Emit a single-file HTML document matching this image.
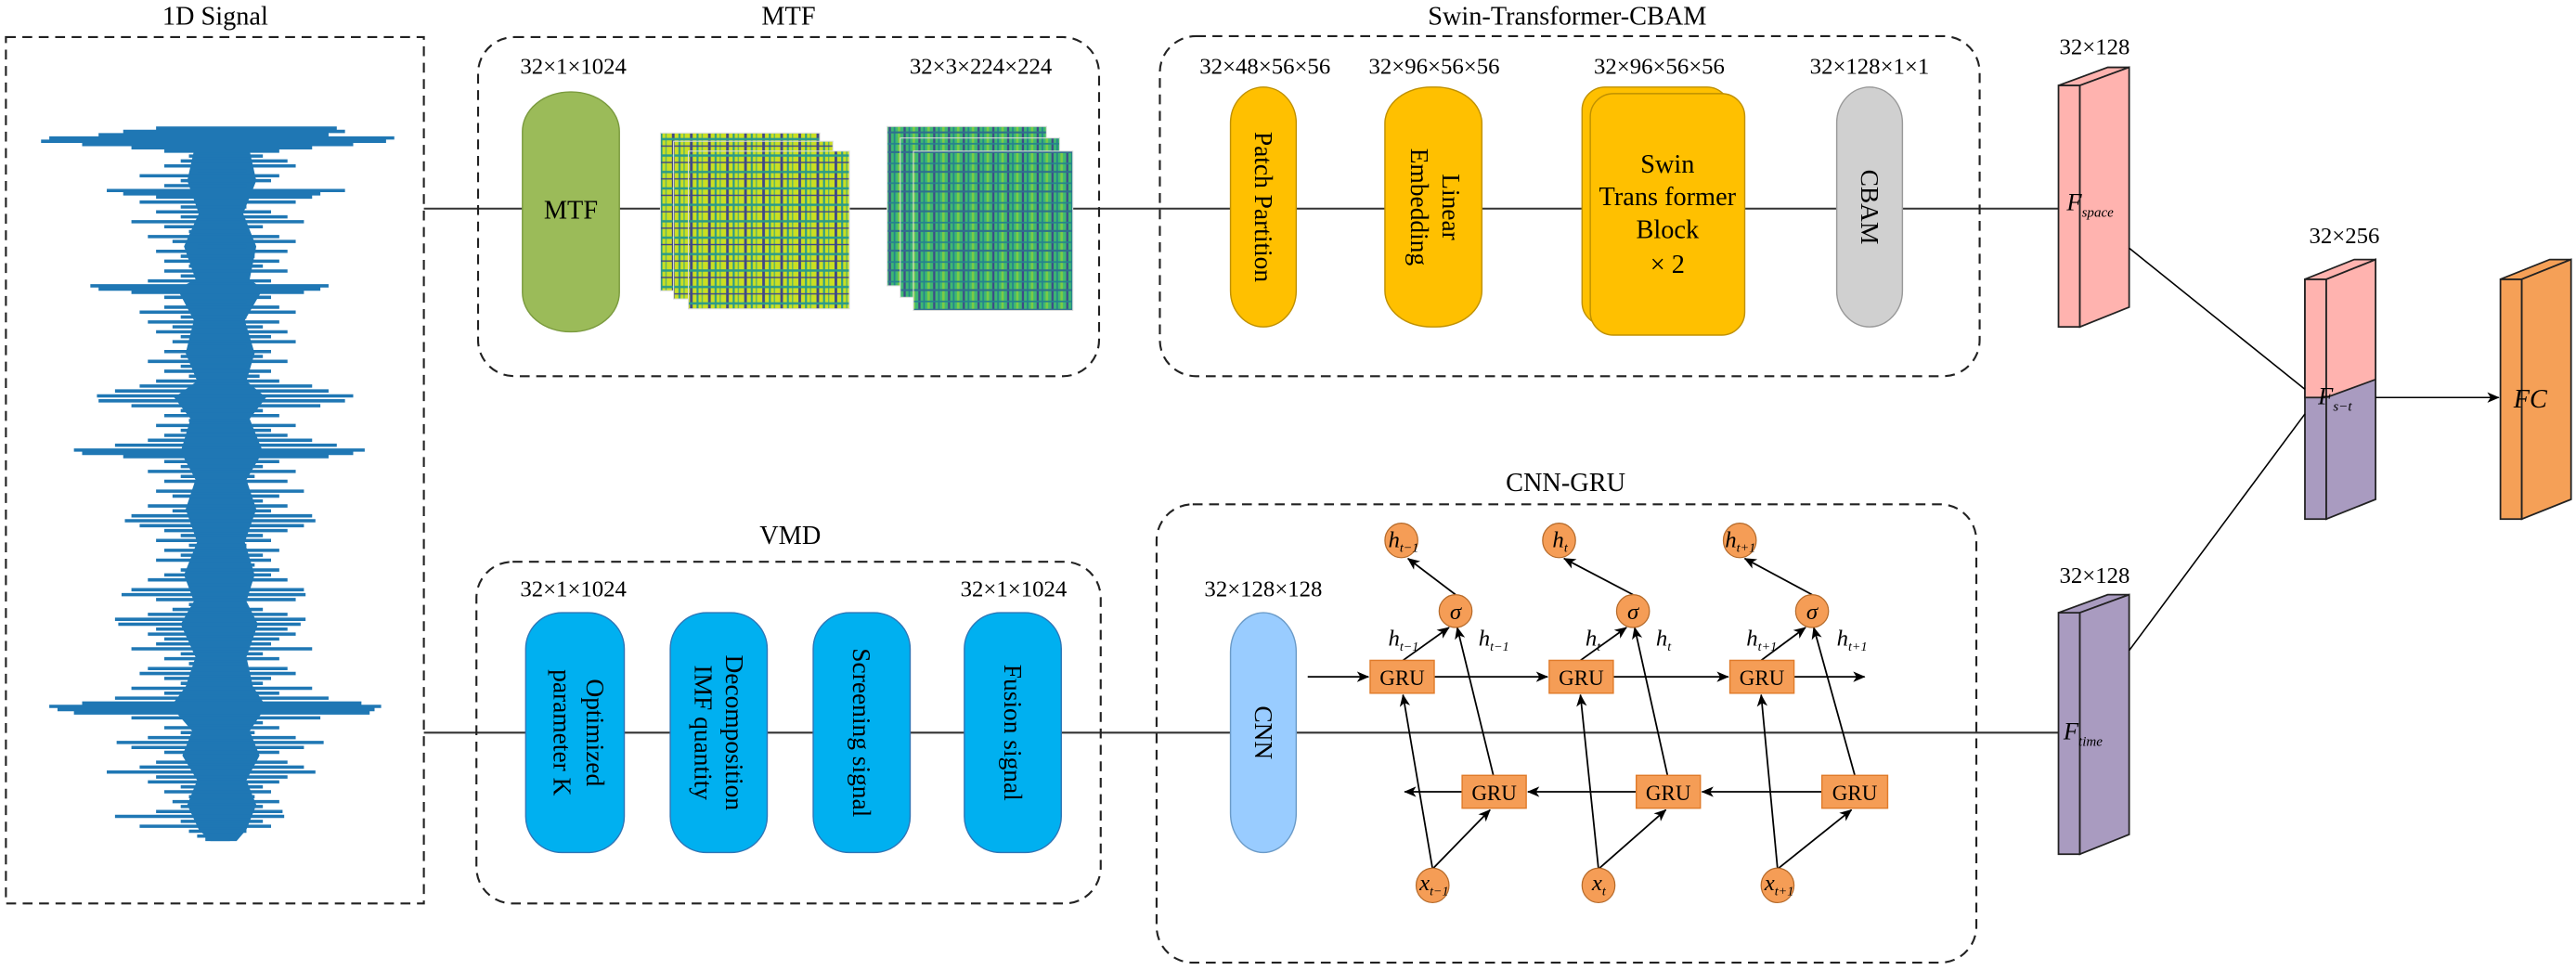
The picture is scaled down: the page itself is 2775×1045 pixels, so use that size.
<!DOCTYPE html>
<html><head><meta charset="utf-8">
<style>
html,body{margin:0;padding:0;background:#fff;}
svg{display:block;}
text{font-family:"Liberation Serif","DejaVu Serif",serif;fill:#000;}
</style></head>
<body>
<svg width="2775" height="1045" viewBox="0 0 1568 590.5" preserveAspectRatio="none" xmlns="http://www.w3.org/2000/svg">
<defs>
<marker id="ar" markerWidth="8" markerHeight="8" refX="7" refY="4" orient="auto" markerUnits="userSpaceOnUse">
<path d="M0,0.8 L7.5,4 L0,7.2 L2,4 Z" fill="#000"/>
</marker>
<pattern id="p1" width="11" height="10" patternUnits="userSpaceOnUse">
<rect width="11" height="10" fill="#CADF22"/>
<rect x="2" width="1.6" height="10" fill="#3F4889"/>
<rect x="6" width="1.2" height="10" fill="#2B9A8A"/>
<rect x="9" width="0.8" height="10" fill="#5AB56A"/>
<rect y="4" width="11" height="1.4" fill="#2B9A8A"/>
<rect y="8.5" width="11" height="0.8" fill="#3F4889"/>
</pattern>
<pattern id="p2" width="9" height="12" patternUnits="userSpaceOnUse">
<rect width="9" height="12" fill="#3DB872"/>
<rect x="1" width="1.3" height="12" fill="#3E4A89"/>
<rect x="4" width="1" height="12" fill="#26828E"/>
<rect x="6.5" width="1.5" height="12" fill="#7CCB45"/>
<rect y="3" width="9" height="1" fill="#26828E"/>
<rect y="8" width="9" height="1.2" fill="#2F6F8E"/>
</pattern>
</defs>

<line x1="258" y1="127" x2="1253" y2="127" stroke="#333" stroke-width="1.2"/>
<line x1="258" y1="446" x2="1253" y2="446" stroke="#333" stroke-width="1.2"/>

<text x="131" y="15" font-size="16" text-anchor="middle">1D Signal</text>
<rect x="3.6" y="22.6" width="254.4" height="527.4" fill="none" stroke="#222" stroke-width="1.2" stroke-dasharray="6 4"/>
<g stroke="#1F77B4" stroke-width="2" fill="none">
<path d="M118 92 L114 110 L121 130 L112 150 L119 170 L108 176 L118 195 L113 215 L120 232 L106 242 L116 255 L110 275 L119 292 L113 310 L120 330 L112 350 L118 366 L110 380 L119 400 L113 418 L104 430 L117 445 L111 460 L120 475 L114 490 L121 505 L128 512 L144 512 L150 505 L156 490 L150 475 L158 460 L152 445 L162 430 L154 418 L150 400 L157 380 L150 366 L155 350 L149 330 L156 310 L150 292 L160 275 L152 255 L162 242 L150 232 L155 215 L149 195 L160 176 L152 170 L156 150 L148 130 L156 110 L152 92 Z" fill="#1F77B4" stroke="none"/>
<path d="M95 78H205M75 80H210M60 82H200M30 84H240M25 86H235M50 88H215M80 90H190M100 92H170M115 95H160M110 98H175M100 101H180M120 104H150M85 107H170M110 110H165M100 113H150M65 116H210M75 118H195M95 120H190M85 123H180M110 126H150M95 129H165M110 132H175M80 135H185M100 138H160M115 141H150M90 144H170M105 147H180M120 150H150M95 153H175M110 156H155M100 159H170M115 162H160M100 165H175M110 168H150M90 171H165M55 174H200M60 176H195M80 178H185M100 181H165M115 184H150M100 187H170M85 190H180M110 193H150M90 196H170M105 199H160M95 202H175M110 205H165M105 208H180M115 211H150M100 214H165M110 217H160M90 220H175M110 223H150M100 226H165M115 229H158M95 232H170M85 235H190M70 238H200M59 241H215M60 244H210M80 247H195M110 250H160M100 253H170M115 256H150M95 259H180M110 262H165M100 265H175M90 268H190M70 271H205M45 274H222M50 276H215M75 278H200M100 281H170M110 284H160M90 287H180M110 290H155M100 293H175M120 296H150M95 299H185M105 302H170M115 305H160M90 308H175M105 311H165M80 314H190M76 317H192M85 320H185M100 323H175M110 326H160M95 329H165M115 332H150M100 335H170M110 338H160M95 341H165M115 344H155M110 347H170M100 350H165M90 353H175M115 356H150M80 359H185M74 362H186M95 365H180M115 368H150M105 371H160M90 374H175M70 377H186M72 380H183M95 383H175M90 386H180M100 389H170M95 392H165M80 395H190M110 398H160M100 401H170M115 404H150M90 407H175M85 410H180M100 413H165M110 416H160M80 419H190M100 422H170M70 425H200M50 428H220M30 430H232M35 432H228M45 434H225M80 437H195M115 440H160M100 443H170M110 446H155M90 449H180M71 452H197M80 455H185M100 458H170M115 461H150M95 464H175M85 467H185M65 470H192M95 473H175M90 476H170M110 479H160M100 482H165M115 485H155M105 488H170M110 491H160M95 494H172M70 497H173M110 500H160M85 503H165M115 506H150M120 509H145M125 511H140"/>
</g>

<text x="480" y="15" font-size="16" text-anchor="middle">MTF</text>
<rect x="291" y="22.6" width="378" height="206.4" rx="22" fill="none" stroke="#222" stroke-width="1.2" stroke-dasharray="6 4"/>
<text x="349" y="45" font-size="14" text-anchor="middle">32×1×1024</text>
<text x="597" y="45" font-size="14" text-anchor="middle">32×3×224×224</text>
<rect x="318" y="56" width="59" height="146" rx="29" ry="24" fill="#9BBB59" stroke="#7A9A3E" stroke-width="0.8"/>
<text x="347.5" y="133" font-size="16" text-anchor="middle">MTF</text>
<rect x="402" y="81" width="97" height="96" fill="url(#p1)" stroke="#ddd" stroke-width="0.6"/>
<rect x="410" y="86" width="97" height="96" fill="url(#p1)" stroke="#ddd" stroke-width="0.6"/>
<rect x="419" y="92" width="98" height="96" fill="url(#p1)" stroke="#ddd" stroke-width="0.6"/>
<rect x="540" y="77" width="97" height="97" fill="url(#p2)" stroke="#ddd" stroke-width="0.6"/>
<rect x="548" y="84" width="97" height="97" fill="url(#p2)" stroke="#ddd" stroke-width="0.6"/>
<rect x="556" y="92" width="97" height="97" fill="url(#p2)" stroke="#ddd" stroke-width="0.6"/>

<text x="954" y="15" font-size="16" text-anchor="middle">Swin-Transformer-CBAM</text>
<rect x="706" y="22" width="499" height="207" rx="22" fill="none" stroke="#222" stroke-width="1.2" stroke-dasharray="6 4"/>
<text x="770" y="45" font-size="14" text-anchor="middle">32×48×56×56</text>
<text x="873" y="45" font-size="14" text-anchor="middle">32×96×56×56</text>
<text x="1010" y="45" font-size="14" text-anchor="middle">32×96×56×56</text>
<text x="1138" y="45" font-size="14" text-anchor="middle">32×128×1×1</text>
<rect x="749" y="53" width="40" height="146" rx="20" ry="22" fill="#FFC000" stroke="#BF9000" stroke-width="0.8"/>
<text transform="translate(769,126) rotate(90)" font-size="15.5" text-anchor="middle" dominant-baseline="central">Patch Partition</text>
<rect x="843" y="53" width="59" height="146" rx="28" ry="22" fill="#FFC000" stroke="#BF9000" stroke-width="0.8"/>
<text transform="translate(872,126) rotate(90)" font-size="15.5" text-anchor="middle"><tspan x="0" y="-6">Linear</tspan><tspan x="0" y="13">Embedding</tspan></text>
<rect x="963" y="53" width="90" height="145" rx="14" fill="#FFC000" stroke="#BF9000" stroke-width="0.8"/>
<rect x="968" y="57" width="94" height="147" rx="14" fill="#FFC000" stroke="#BF9000" stroke-width="0.8"/>
<text x="1015" y="105" font-size="16" text-anchor="middle">Swin</text>
<text x="1015" y="125" font-size="16" text-anchor="middle">Trans former</text>
<text x="1015" y="145" font-size="16" text-anchor="middle">Block</text>
<text x="1015" y="166" font-size="16" text-anchor="middle">× 2</text>
<rect x="1118" y="53" width="40" height="146" rx="20" ry="22" fill="#D0D0D0" stroke="#999" stroke-width="0.8"/>
<text transform="translate(1138,126) rotate(90)" font-size="15.5" text-anchor="middle" dominant-baseline="central">CBAM</text>

<text x="481" y="331" font-size="16" text-anchor="middle">VMD</text>
<rect x="290" y="342" width="380" height="208" rx="22" fill="none" stroke="#222" stroke-width="1.2" stroke-dasharray="6 4"/>
<text x="349" y="363" font-size="14" text-anchor="middle">32×1×1024</text>
<text x="617" y="363" font-size="14" text-anchor="middle">32×1×1024</text>
<g fill="#00B0F0" stroke="#2E75B6" stroke-width="0.8">
<rect x="320" y="373" width="60" height="146" rx="22" ry="22"/>
<rect x="408" y="373" width="59" height="146" rx="22" ry="22"/>
<rect x="495" y="373" width="59" height="146" rx="22" ry="22"/>
<rect x="587" y="373" width="59" height="146" rx="22" ry="22"/>
</g>
<text transform="translate(350,446) rotate(90)" font-size="15.5" text-anchor="middle"><tspan x="0" y="-7">Optimized</tspan><tspan x="0" y="13">parameter K</tspan></text>
<text transform="translate(437,446) rotate(90)" font-size="15.5" text-anchor="middle"><tspan x="0" y="-5">Decomposition</tspan><tspan x="0" y="14">IMF quantity</tspan></text>
<text transform="translate(524.5,446) rotate(90)" font-size="15.5" text-anchor="middle" dominant-baseline="central">Screening signal</text>
<text transform="translate(616.5,446) rotate(90)" font-size="15.5" text-anchor="middle" dominant-baseline="central">Fusion signal</text>

<text x="953" y="299" font-size="16" text-anchor="middle">CNN-GRU</text>
<rect x="704" y="307" width="499" height="279" rx="22" fill="none" stroke="#222" stroke-width="1.2" stroke-dasharray="6 4"/>
<text x="769" y="363" font-size="14" text-anchor="middle">32×128×128</text>
<rect x="749" y="373" width="40" height="146" rx="20" ry="24" fill="#99CCFF" stroke="#6B9BC8" stroke-width="0.8"/>
<text transform="translate(769,446) rotate(90)" font-size="15.5" text-anchor="middle" dominant-baseline="central">CNN</text>

<g stroke="#000" stroke-width="1" fill="none" marker-end="url(#ar)">
<line x1="796" y1="412" x2="833" y2="412"/>
<line x1="873" y1="412" x2="942" y2="412"/>
<line x1="982" y1="412" x2="1052" y2="412"/>
<line x1="1092" y1="412" x2="1135" y2="412"/>
<line x1="1109" y1="482" x2="1036" y2="482"/>
<line x1="996" y1="482" x2="930" y2="482"/>
<line x1="890" y1="482" x2="855" y2="482"/>
<line x1="854" y1="402" x2="882" y2="382"/>
<line x1="909" y1="472" x2="887" y2="382"/>
<line x1="962" y1="402" x2="990" y2="382"/>
<line x1="1015" y1="472" x2="995" y2="382"/>
<line x1="1072" y1="402" x2="1099" y2="382"/>
<line x1="1129" y1="472" x2="1104" y2="382"/>
<line x1="886" y1="362" x2="857" y2="340"/>
<line x1="994" y1="362" x2="952" y2="340"/>
<line x1="1103" y1="362" x2="1062" y2="340"/>
<line x1="872" y1="529" x2="854" y2="423"/>
<line x1="872" y1="529" x2="907" y2="493"/>
<line x1="973" y1="529" x2="962" y2="423"/>
<line x1="973" y1="529" x2="1014" y2="493"/>
<line x1="1082" y1="529" x2="1072" y2="423"/>
<line x1="1082" y1="529" x2="1127" y2="493"/>
</g>

<g fill="#F59D56" stroke="#E07B2A" stroke-width="0.8">
<rect x="834" y="402" width="39" height="20"/>
<rect x="943" y="402" width="39" height="20"/>
<rect x="1053" y="402" width="39" height="20"/>
<rect x="890" y="472" width="39" height="20"/>
<rect x="996" y="472" width="39" height="20"/>
<rect x="1109" y="472" width="40" height="20"/>
</g>
<g font-size="13" text-anchor="middle">
<text x="853.5" y="417">GRU</text><text x="962.5" y="417">GRU</text><text x="1072.5" y="417">GRU</text>
<text x="909.5" y="487">GRU</text><text x="1015.5" y="487">GRU</text><text x="1129" y="487">GRU</text>
</g>
<g fill="#F59D56" stroke="#B56A2A" stroke-width="0.7">
<circle cx="886" cy="372" r="10"/><circle cx="994" cy="372" r="10"/><circle cx="1103" cy="372" r="10"/>
<ellipse cx="853" cy="329" rx="10" ry="10.5"/><ellipse cx="949" cy="329" rx="10" ry="10.5"/><ellipse cx="1059" cy="329" rx="10" ry="10.5"/>
<ellipse cx="872" cy="539" rx="10" ry="10.5"/><ellipse cx="973" cy="539" rx="10" ry="10.5"/><ellipse cx="1082" cy="539" rx="10" ry="10.5"/>
</g>
<g font-style="italic" font-size="14">
<text x="886" y="377" text-anchor="middle">σ</text><text x="994" y="377" text-anchor="middle">σ</text><text x="1103" y="377" text-anchor="middle">σ</text>
<text x="845" y="333">h<tspan font-size="8" dy="3">t−1</tspan></text>
<text x="945" y="333">h<tspan font-size="8" dy="3">t</tspan></text>
<text x="1050" y="333">h<tspan font-size="8" dy="3">t+1</tspan></text>
<text x="864" y="542">x<tspan font-size="8" dy="3">t−1</tspan></text>
<text x="969" y="542">x<tspan font-size="8" dy="3">t</tspan></text>
<text x="1074" y="542">x<tspan font-size="8" dy="3">t+1</tspan></text>
<text x="845" y="393">h<tspan font-size="8" dy="3">t−1</tspan></text>
<text x="900" y="393">h<tspan font-size="8" dy="3">t−1</tspan></text>
<text x="965" y="393">h<tspan font-size="8" dy="3">t</tspan></text>
<text x="1008" y="393">h<tspan font-size="8" dy="3">t</tspan></text>
<text x="1063" y="393">h<tspan font-size="8" dy="3">t+1</tspan></text>
<text x="1118" y="393">h<tspan font-size="8" dy="3">t+1</tspan></text>
</g>

<g stroke="#222" stroke-width="1">
<rect x="1253" y="52" width="13" height="147" fill="#FFB3AF"/>
<polygon points="1253,52 1266,52 1296,41 1283,41" fill="#FFB3AF"/>
<polygon points="1266,52 1296,41 1296,187 1266,199" fill="#FFB3AF"/>
<rect x="1253" y="373" width="13" height="147" fill="#A99BC0"/>
<polygon points="1253,373 1266,373 1296,362 1283,362" fill="#A99BC0"/>
<polygon points="1266,373 1296,362 1296,508 1266,520" fill="#A99BC0"/>
<rect x="1403" y="170" width="13" height="146" fill="#A99BC0"/>
<polygon points="1416,170 1446,158 1446,304 1416,316" fill="#A99BC0"/>
<rect x="1403" y="170" width="13" height="72" fill="#FFB3AF"/>
<polygon points="1416,170 1446,158 1446,231 1416,242" fill="#FFB3AF"/>
<polygon points="1403,170 1416,170 1446,158 1433,158" fill="#FFB3AF"/>
<rect x="1522" y="170" width="13" height="146" fill="#F5A057"/>
<polygon points="1522,170 1535,170 1565,158 1552,158" fill="#F5A057"/>
<polygon points="1535,170 1565,158 1565,304 1535,316" fill="#F5A057"/>
</g>
<g stroke="#000" stroke-width="0.9" fill="none">
<line x1="1296" y1="151" x2="1403" y2="237"/>
<line x1="1296" y1="396" x2="1403" y2="252"/>
<line x1="1446" y1="242" x2="1521" y2="242" marker-end="url(#ar)"/>
</g>
<g font-size="14" text-anchor="middle">
<text x="1275" y="33">32×128</text>
<text x="1275" y="355">32×128</text>
<text x="1427" y="148">32×256</text>
</g>
<g font-style="italic">
<text x="1258" y="128" font-size="15">F<tspan font-size="8.5" dy="4">space</tspan></text>
<text x="1256" y="450" font-size="15">F<tspan font-size="8.5" dy="4">time</tspan></text>
<text x="1411" y="246" font-size="15">F<tspan font-size="8.5" dy="4">s−t</tspan></text>
<text x="1530" y="248" font-size="16">FC</text>
</g>
</svg>
</body></html>
